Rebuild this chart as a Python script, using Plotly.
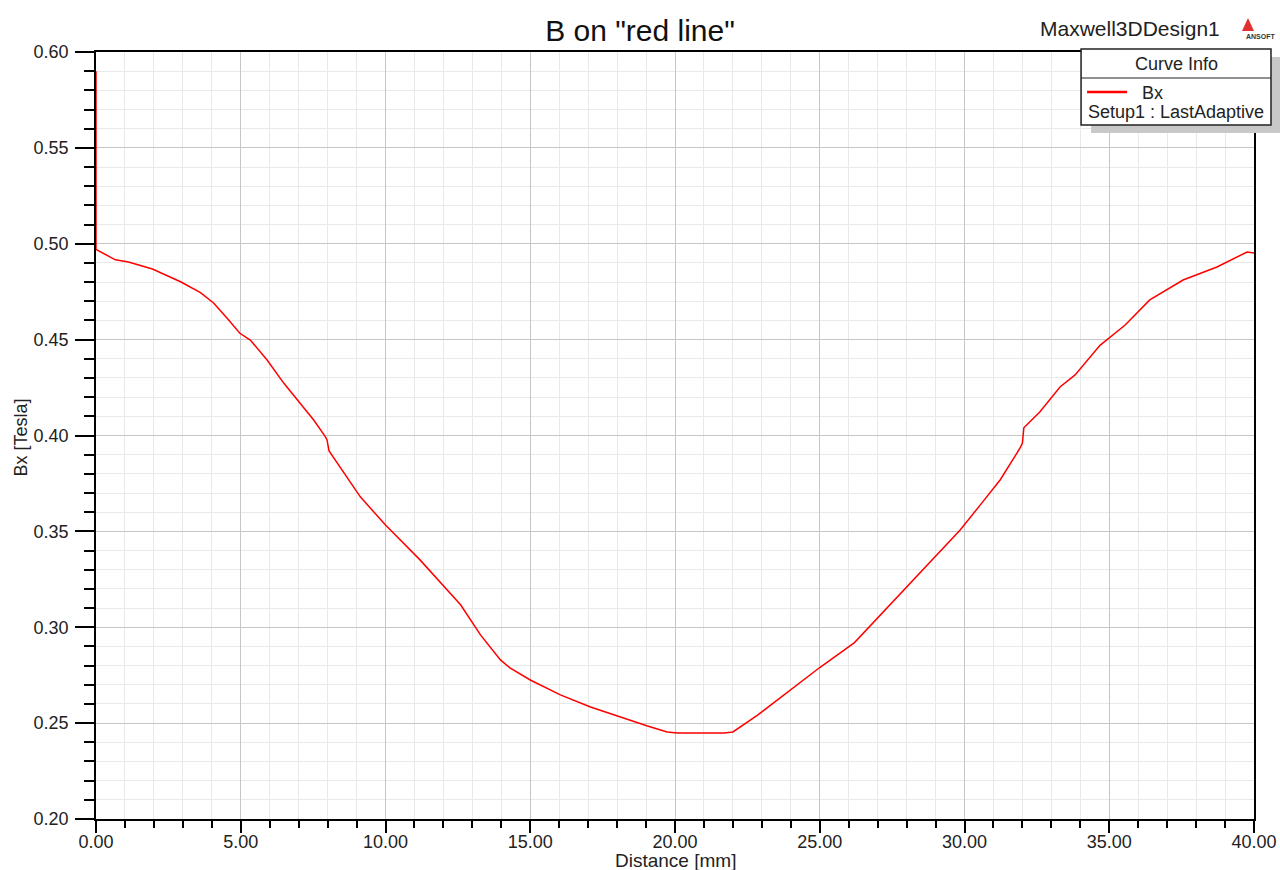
import plotly.graph_objects as go

# ---- data ----
distance_mm = [0.0, 0.0, 0.67, 1.12, 1.95, 2.92, 3.61, 4.07, 4.53, 4.97, 5.33, 5.91,
               6.49, 6.95, 7.52, 7.92, 7.98, 8.05, 9.13, 10.0, 11.2, 12.6, 13.28,
               13.97, 14.3, 15.0, 16.04, 17.08, 18.1, 19.05, 19.73, 20.08, 21.7,
               22.0, 22.84, 23.63, 25.0, 26.2, 27.1, 28.5, 29.85, 30.54, 31.23,
               31.92, 32.0, 32.05, 32.6, 33.3, 33.82, 34.68, 35.55, 36.4, 37.55,
               38.72, 39.76, 40.0]
bx_tesla = [0.590, 0.497, 0.4916, 0.4905, 0.4868, 0.4802, 0.4745, 0.469, 0.4611,
            0.4533, 0.4498, 0.4394, 0.4272, 0.4185, 0.4081, 0.3994, 0.3977, 0.392,
            0.368, 0.3533, 0.335, 0.3116, 0.296, 0.283, 0.2788, 0.2725, 0.2647,
            0.2584, 0.2532, 0.2485, 0.2454, 0.2448, 0.2448, 0.2454, 0.254, 0.263,
            0.279, 0.292, 0.3064, 0.329, 0.3507, 0.3637, 0.3768, 0.3935, 0.396,
            0.404, 0.4123, 0.4253, 0.4316, 0.447, 0.4576, 0.4707, 0.4811, 0.4879,
            0.4957, 0.4952]
series_name = "Bx"
series_setup = "Setup1 : LastAdaptive"
x_ticks = [0, 5, 10, 15, 20, 25, 30, 35, 40]
y_ticks = [0.20, 0.25, 0.30, 0.35, 0.40, 0.45, 0.50, 0.55, 0.60]

FONT = "Liberation Sans, Arial, sans-serif"

fig = go.Figure()
fig.add_trace(go.Scatter(x=distance_mm, y=bx_tesla, mode="lines", name=series_name,
                         line=dict(color="#ff0000", width=1.5), showlegend=False))

L, R, T, B = 95.5, 26, 52, 51
W, H = 1280, 870
pw, ph = W - L - R, H - T - B


def px(x):
    return (x - L) / pw


def py(y):
    return (H - B - y) / ph


fig.update_layout(
    width=W, height=H,
    margin=dict(l=L, r=R, t=T, b=B, pad=0),
    paper_bgcolor="white", plot_bgcolor="white",
    font=dict(family=FONT, color="#222", size=18),
    title=dict(text='B on "red line"', x=0.5, xanchor="center", xref="container",
               y=1 - 30 / H, yanchor="middle", font=dict(size=30, color="#111")),
    xaxis=dict(range=[0, 40], tickvals=x_ticks, automargin=False,
               ticktext=[f"{v:.2f}" for v in x_ticks],
               showline=True, linecolor="black", linewidth=1.5, mirror=True,
               ticks="outside", ticklen=12, tickcolor="black", tickwidth=1.5,
               ticklabelstandoff=-6,
               showgrid=True, gridcolor="#c6c6c6", gridwidth=1, zeroline=False,
               minor=dict(dtick=1, ticks="outside", ticklen=7, tickcolor="black",
                          tickwidth=1.5, showgrid=True, gridcolor="#e9e9e9", gridwidth=1),
               tickfont=dict(size=18)),
    yaxis=dict(range=[0.20, 0.60], tickvals=y_ticks, automargin=False,
               ticktext=[f"{v:.2f}" for v in y_ticks],
               showline=True, linecolor="black", linewidth=1.5, mirror=True,
               ticks="outside", ticklen=19, tickcolor="black", tickwidth=1.5,
               ticklabelstandoff=3,
               showgrid=True, gridcolor="#c6c6c6", gridwidth=1, zeroline=False,
               minor=dict(dtick=0.01, ticks="outside", ticklen=10, tickcolor="black",
                          tickwidth=1.5, showgrid=True, gridcolor="#e9e9e9", gridwidth=1),
               tickfont=dict(size=18)),
)

# Legend ("Curve Info") box drawn as decoration
shapes = []
shapes.append(dict(type="rect", xref="paper", yref="paper",
                   x0=px(1091), x1=px(1280), y0=py(133), y1=py(57),
                   fillcolor="#c8c8c8", line=dict(width=0), layer="above"))
shapes.append(dict(type="rect", xref="paper", yref="paper",
                   x0=px(1081), x1=px(1271), y0=py(125), y1=py(49),
                   fillcolor="white", line=dict(color="#222", width=1.5), layer="above"))
shapes.append(dict(type="line", xref="paper", yref="paper",
                   x0=px(1081), x1=px(1271), y0=py(78), y1=py(78),
                   line=dict(color="#222", width=1), layer="above"))
shapes.append(dict(type="line", xref="paper", yref="paper",
                   x0=px(1087), x1=px(1127), y0=py(92), y1=py(92),
                   line=dict(color="#ff0000", width=2.5), layer="above"))
# ANSOFT logo mark
shapes.append(dict(type="path", xref="paper", yref="paper",
                   path=f"M {px(1242)} {py(31)} L {px(1248)} {py(18)} L {px(1254)} {py(31)} Z",
                   fillcolor="#e03030", line=dict(width=0), layer="above"))
fig.update_layout(shapes=shapes)

ann = [
    dict(text="Distance [mm]", x=px(675), y=py(860), font=dict(size=19, color="#222")),
    dict(text="Bx [Tesla]", x=px(20), y=py(438), textangle=-90, font=dict(size=18, color="#222")),
    dict(text="Curve Info", x=px(1176), y=py(64), font=dict(size=18, color="#222")),
    dict(text=series_name, x=px(1140), y=py(93), xanchor="left", font=dict(size=18, color="#222")),
    dict(text=series_setup, x=px(1086), y=py(112), xanchor="left", font=dict(size=18, color="#222")),
    dict(text="Maxwell3DDesign1", x=px(1222), y=py(28), xanchor="right", font=dict(size=21, color="#222")),
    dict(text="<b>ANSOFT</b>", x=px(1261), y=py(36), font=dict(size=7, color="#333")),
]
for a in ann:
    a.setdefault("xanchor", "center")
    a.update(xref="paper", yref="paper", yanchor="middle", showarrow=False)
fig.update_layout(annotations=ann)

fig.write_html("out.html")
